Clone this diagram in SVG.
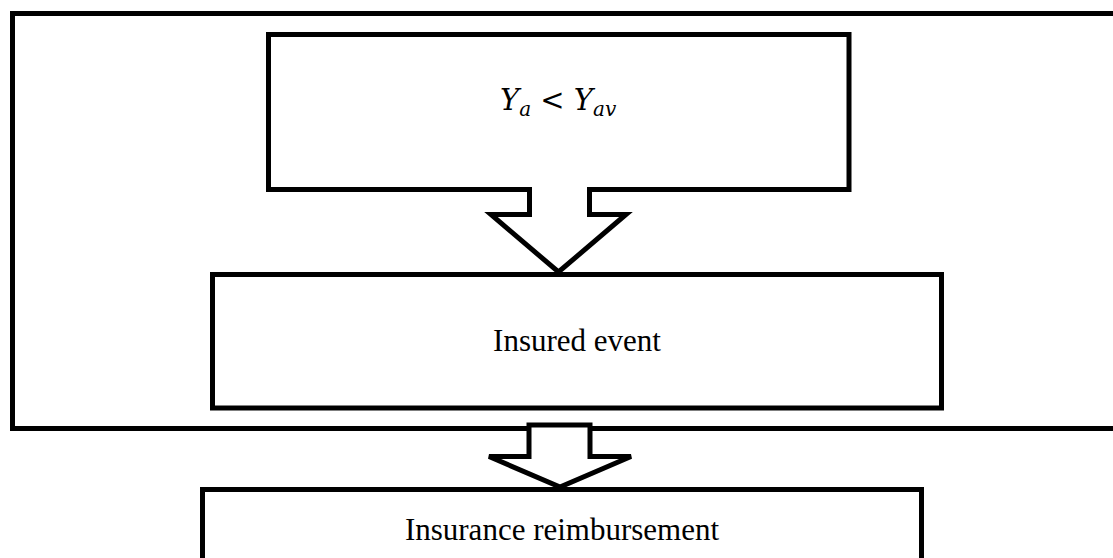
<svg xmlns="http://www.w3.org/2000/svg" width="1113" height="558" viewBox="0 0 1113 558">
<style>
.box{fill:#fff;stroke:#000;stroke-width:5}
.arrow{fill:#fff;stroke:#000;stroke-width:5;stroke-linejoin:miter}
.lbl{font-family:"Liberation Serif","Times New Roman",serif;font-size:31px;fill:#000}
.math{font-family:"DejaVu Serif","Liberation Serif",serif;font-style:italic;fill:#000}
</style>
<rect width="1113" height="558" fill="#fff"/>
<g id="outer">
<rect class="box" x="12.5" y="13.5" width="1120" height="415"/>
</g>
<g id="node-condition">
<rect class="box" x="268.5" y="34.5" width="580.5" height="155"/>
<text class="math" x="500" y="110" font-size="29">Y<tspan font-size="20" dy="6">a</tspan><tspan font-size="29" dy="-6" font-style="normal"> &lt; </tspan><tspan>Y</tspan><tspan font-size="20" dy="6">av</tspan></text>
</g>
<g id="node-event">
<rect class="box" x="212.5" y="274.5" width="729" height="133.5"/>
<text class="lbl" x="577" y="351" text-anchor="middle">Insured event</text>
</g>
<g id="node-reimbursement">
<rect class="box" x="202.5" y="489.5" width="719" height="100"/>
<text class="lbl" x="562" y="540" text-anchor="middle">Insurance reimbursement</text>
</g>
<g id="connectors">
<path d="M529.5 192 L529.5 214.5 L491 214.5 L558.5 272 L626 214.5 L589.5 214.5 L589.5 192 Z" fill="#fff" stroke="none"/>
<polyline class="arrow" points="529.5,187 529.5,214.5 491,214.5 558.5,272 626,214.5 589.5,214.5 589.5,187" fill="none"/>
<polygon class="arrow" points="529,425 590,425 590,456.5 631,456.5 560,487 489,456.5 529,456.5"/>
</g>
</svg>
